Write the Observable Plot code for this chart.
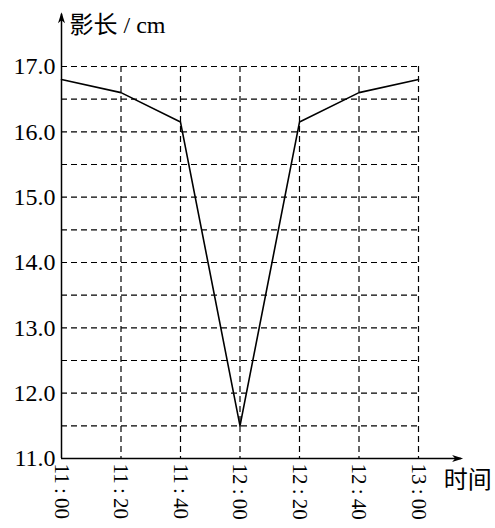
<!DOCTYPE html>
<html><head><meta charset="utf-8">
<script src="https://cdn.jsdelivr.net/npm/d3@7"></script>
<script src="https://cdn.jsdelivr.net/npm/@observablehq/plot@0.6"></script>
<style>body{margin:0;background:#fff} svg text{font-family:"Liberation Serif","Noto Sans CJK SC",serif !important;}</style>
</head><body><div id="chart"></div>
<script>
const timeLabels = ["11\u2009:\u200900","11\u2009:\u200920","11\u2009:\u200940","12\u2009:\u200900","12\u2009:\u200920","12\u2009:\u200940","13\u2009:\u200900"];
const minutes = [0, 20, 40, 60, 80, 100, 120];
const shadow = [16.8, 16.6, 16.15, 11.5, 16.15, 16.6, 16.8];
const yTicks = [11, 12, 13, 14, 15, 16, 17];
const yGrid = [11.5, 12, 12.5, 13, 13.5, 14, 14.5, 15, 15.5, 16, 16.5, 17];
const xGrid = [20, 40, 60, 80, 100, 120];
const yLabel = "影长 / cm";
const xLabel = "时间";

const data = minutes.map((m, i) => ({m, v: shadow[i], label: timeLabels[i]}));
const serif = "Liberation Serif";

const arrowSym = {draw(ctx) { ctx.moveTo(0, 0); ctx.lineTo(3.5, 11); ctx.lineTo(0, 8); ctx.lineTo(-3.5, 11); ctx.closePath(); }};

const chart = Plot.plot({
  width: 495, height: 528,
  marginLeft: 61, marginRight: 77, marginTop: 66, marginBottom: 70,
  style: {background: "#fff", color: "#000"},
  x: {domain: [0, 120], axis: null},
  y: {domain: [11, 17], axis: null},
  marks: [
    Plot.gridY(yGrid, {stroke: "#000", strokeOpacity: 1, strokeDasharray: "6,4", strokeWidth: 1.2}),
    Plot.gridX(xGrid, {stroke: "#000", strokeOpacity: 1, strokeDasharray: "6,4", strokeWidth: 1.2}),
    Plot.ruleX([0], {y1: 11, y2: 17.8, stroke: "#000", strokeWidth: 1.5}),
    Plot.ruleY([11], {x1: 0, x2: 134.5, stroke: "#000", strokeWidth: 1.5}),
    Plot.dot([{x: 0, y: 17.83}], {x: "x", y: "y", symbol: arrowSym, fill: "#000", stroke: null, r: 4}),
    Plot.dot([{x: 135, y: 11}], {x: "x", y: "y", symbol: arrowSym, fill: "#000", stroke: null, r: 4, rotate: 90}),
    Plot.line(data, {x: "m", y: "v", stroke: "#000", strokeWidth: 1.6}),
    Plot.text(yTicks, {x: 0, y: d => d, text: d => d.toFixed(1), textAnchor: "end", dx: -6, fontSize: 24, fontFamily: serif, fill: "#000"}),
    Plot.text(data, {x: "m", y: 11, text: "label", rotate: 90, textAnchor: "start", lineAnchor: "middle", dy: 5, fontSize: 21, fontFamily: serif, fill: "#000"}),
    Plot.text([yLabel], {x: 0, y: 17.63, text: d => d, textAnchor: "start", dx: 8, fontSize: 24, fontFamily: serif, fill: "#000"}),
    Plot.text([xLabel], {x: 128.5, y: 11, text: d => d, textAnchor: "start", dy: 22, fontSize: 24, fontFamily: serif, fill: "#000"})
  ]
});
document.getElementById("chart").append(chart);
</script></body></html>
